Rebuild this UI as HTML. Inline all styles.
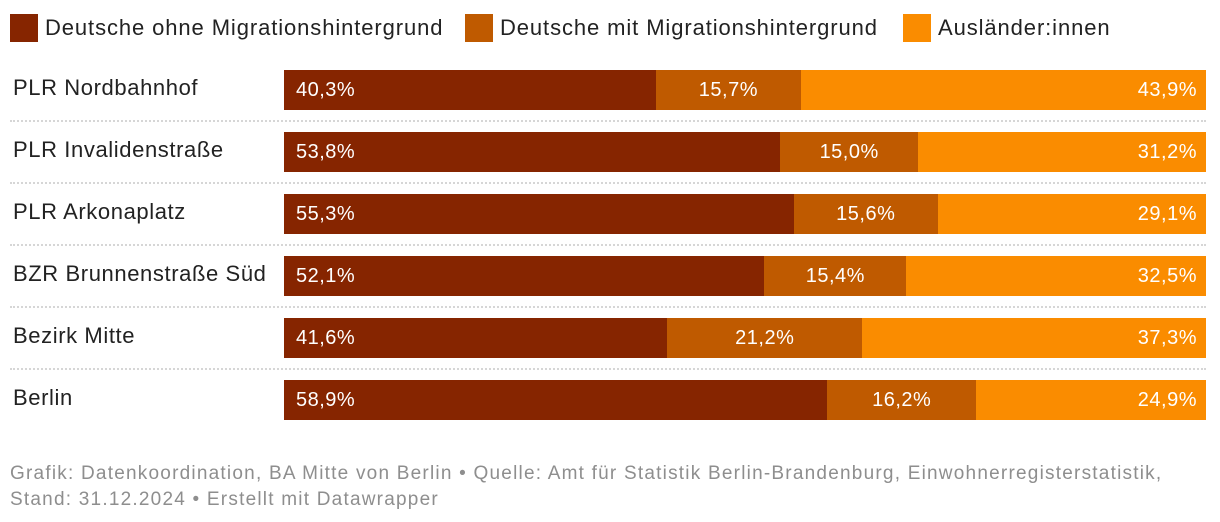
<!DOCTYPE html>
<html><head><meta charset="utf-8"><style>
body{margin:0;background:#fff;font-family:"Liberation Sans",sans-serif;}
#root{position:relative;width:1220px;height:522px;overflow:hidden;}
.leg{position:absolute;top:14px;height:28px;display:flex;align-items:center;font-size:22px;letter-spacing:0.9px;color:#222;}
.sw{width:28px;height:28px;margin-right:7px;}
.lab{position:absolute;left:13px;font-size:22px;letter-spacing:0.6px;color:#222;}
.seg{position:absolute;height:40px;color:#fff;font-size:20px;letter-spacing:0.5px;line-height:40px;box-sizing:border-box;}
.sep{position:absolute;left:10px;width:1196px;border-top:2px dotted #d6d6d6;}
.foot{position:absolute;left:10px;top:461px;font-size:19px;letter-spacing:1.22px;color:#8e8e8e;line-height:26px;white-space:nowrap;}
</style></head><body>
<div id="root">
<div class="leg" style="left:10px"><div class="sw" style="background:#862500"></div>Deutsche ohne Migrationshintergrund</div>
<div class="leg" style="left:465px"><div class="sw" style="background:#bf5a00"></div>Deutsche mit Migrationshintergrund</div>
<div class="leg" style="left:903px"><div class="sw" style="background:#fa8c00"></div>Ausländer:innen</div>
<div id="bars"></div>
<div class="foot">Grafik: Datenkoordination, BA Mitte von Berlin • Quelle: Amt für Statistik Berlin-Brandenburg, Einwohnerregisterstatistik,<br>Stand: 31.12.2024 • Erstellt mit Datawrapper</div>
</div>
<script>
const categories=["PLR Nordbahnhof","PLR Invalidenstraße","PLR Arkonaplatz","BZR Brunnenstraße Süd","Bezirk Mitte","Berlin"];
const ohne=[40.3,53.8,55.3,52.1,41.6,58.9];
const mit=[15.7,15.0,15.6,15.4,21.2,16.2];
const ausl=[43.9,31.2,29.1,32.5,37.3,24.9];
const colors=["#862500","#bf5a00","#fa8c00"];
const X0=284,W=922,Y0=70,STEP=62;
const root=document.getElementById('bars');
function fmt(v){return v.toFixed(1).replace('.',',')+'%';}
categories.forEach((c,i)=>{
  const y=Y0+i*STEP;
  const l=document.createElement('div');l.className='lab';l.style.top=(y+5)+'px';l.textContent=c;
  
  
  root.appendChild(l);
  const vals=[ohne[i],mit[i],ausl[i]];const tot=vals.reduce((a,b)=>a+b,0);
  let acc=0;
  vals.forEach((v,k)=>{
    const s=document.createElement('div');s.className='seg';
    const x=X0+acc/tot*W;const w=v/tot*W;acc+=v;
    s.style.left=x+'px';s.style.width=w+'px';s.style.top=y+'px';s.style.background=colors[k];
    if(k===0){s.style.paddingLeft='12px';}
    else if(k===1){s.style.textAlign='center';}
    else{s.style.textAlign='right';s.style.paddingRight='9px';}
    s.textContent=fmt(v);
    
    
    root.appendChild(s);
  });
  if(i<categories.length-1){
    const d=document.createElement('div');d.className='sep';d.style.top=(y+50)+'px';
    
    
    root.appendChild(d);
  }
});
</script>
</body></html>
